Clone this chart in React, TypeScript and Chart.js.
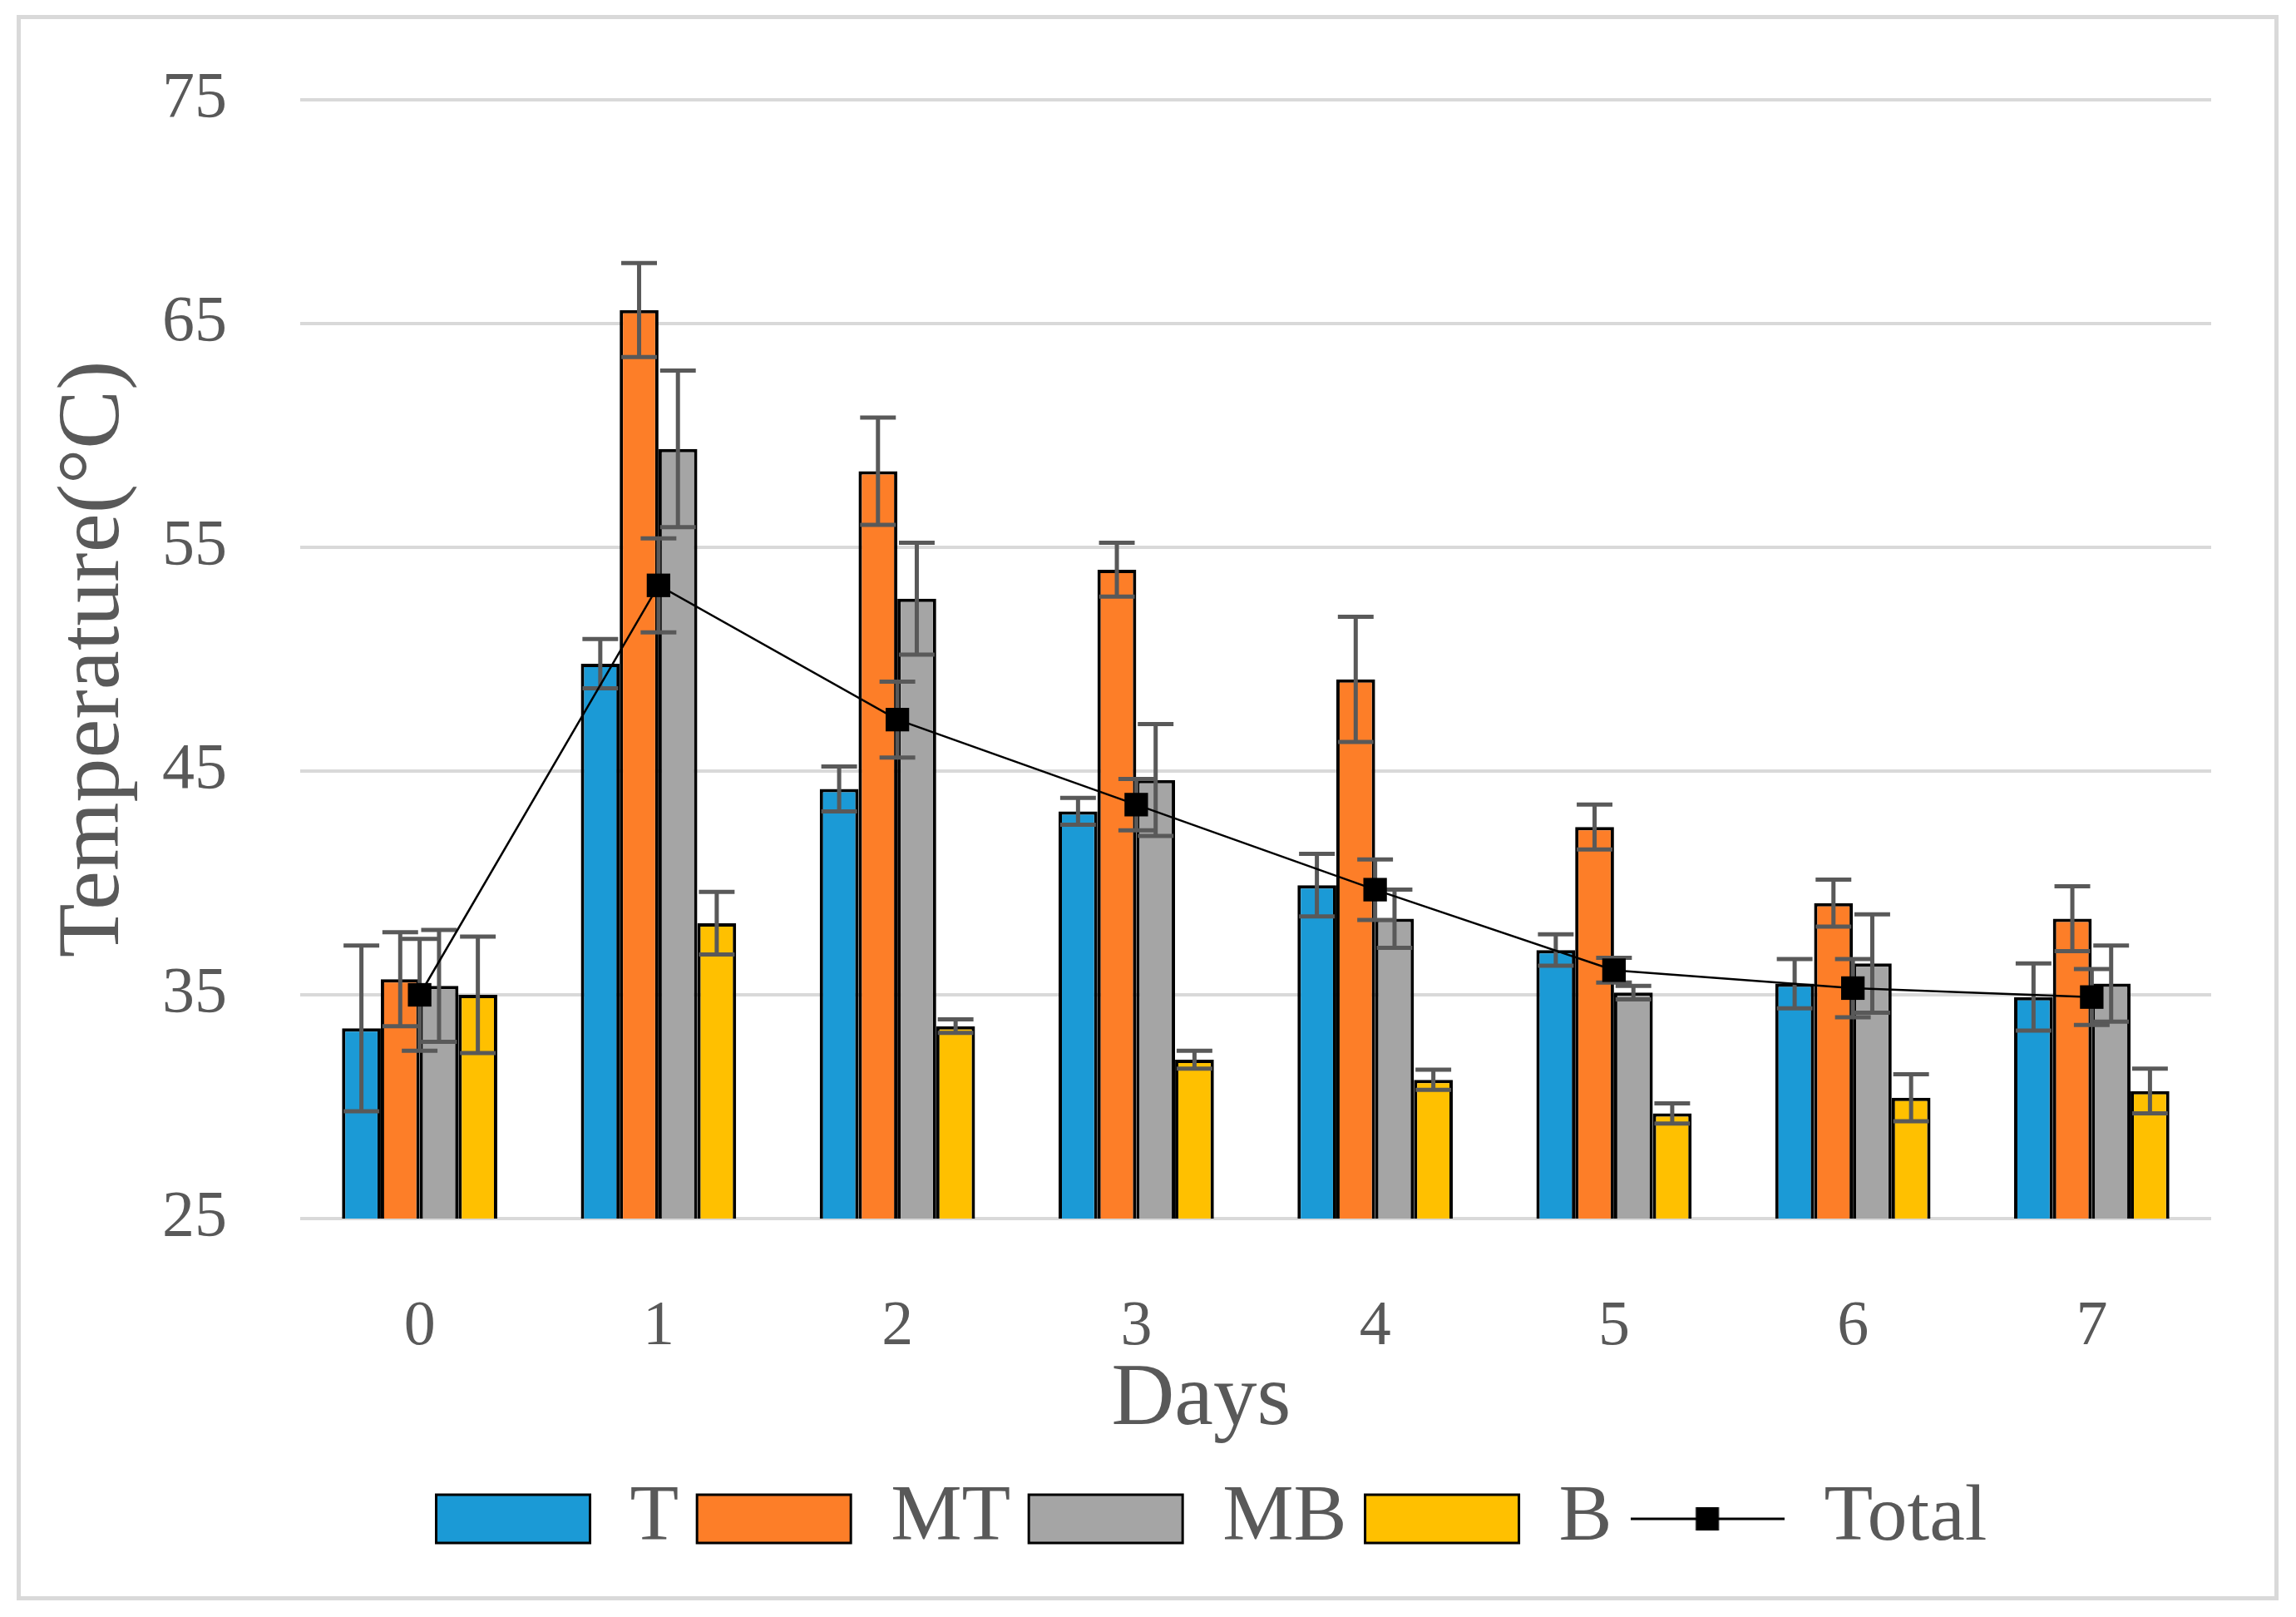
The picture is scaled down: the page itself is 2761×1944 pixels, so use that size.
import React, { useEffect, useRef } from "react";
import { Chart, registerables } from "chart.js";

Chart.register(...registerables);

const days = ["0", "1", "2", "3", "4", "5", "6", "7"];
const seriesNames = ["T", "MT", "MB", "B"];
const seriesColors = ["#1B9AD6", "#FD7E28", "#A5A5A5", "#FFC000"];

const tValues = [33.5, 49.8, 44.2, 43.2, 39.9, 37.0, 35.5, 34.9];
const mtValues = [35.7, 65.6, 58.4, 54.0, 49.1, 42.5, 39.1, 38.4];
const mbValues = [35.4, 59.4, 52.7, 44.6, 38.4, 35.1, 36.4, 35.5];
const bValues = [35.0, 38.2, 33.6, 32.1, 31.2, 29.7, 30.4, 30.7];
const totalValues = [35.0, 53.3, 47.3, 43.5, 39.7, 36.1, 35.3, 34.9];

const tErrors = [3.7, 1.1, 1.0, 0.6, 1.4, 0.7, 1.1, 1.5];
const mtErrors = [2.1, 2.1, 2.4, 1.2, 2.8, 1.0, 1.05, 1.45];
const mbErrors = [2.5, 3.5, 2.5, 2.5, 1.3, 0.3, 2.2, 1.7];
const bErrors = [2.6, 1.4, 0.3, 0.4, 0.45, 0.45, 1.05, 1.0];
const totalErrors = [2.5, 2.1, 1.7, 1.15, 1.35, 0.55, 1.3, 1.25];

const yTicks = [25, 35, 45, 55, 65, 75];

const barValues = [tValues, mtValues, mbValues, bValues];
const allErrors = [tErrors, mtErrors, mbErrors, bErrors, totalErrors];

const ERR_COLOR = "#595959";
const TEXT_COLOR = "#595959";
const FONT = "'Liberation Serif', 'Times New Roman', serif";

function makeTotalIcon(): HTMLCanvasElement {
  const c = document.createElement("canvas");
  c.width = 185;
  c.height = 32;
  const g = c.getContext("2d")!;
  g.strokeStyle = "#000";
  g.lineWidth = 3;
  g.beginPath();
  g.moveTo(0, 16);
  g.lineTo(185, 16);
  g.stroke();
  g.fillStyle = "#000";
  g.fillRect(92.5 - 14, 2, 28, 28);
  return c;
}

const errorBarPlugin = {
  id: "errorBars",
  drawErrors(chart: any, index: number) {
    const errs = allErrors[index];
    if (!errs) return;
    const meta = chart.getDatasetMeta(index);
    if (meta.hidden) return;
    const yScale = chart.scales.y;
    const data = chart.data.datasets[index].data as number[];
    const barMeta = chart.getDatasetMeta(0);
    const bw = barMeta.data[0] ? (barMeta.data[0] as any).width : 46;
    const half = bw * 0.46;
    const ctx = chart.ctx;
    ctx.save();
    ctx.strokeStyle = ERR_COLOR;
    ctx.lineWidth = 5;
    meta.data.forEach((el: any, j: number) => {
      const v = data[j];
      const e = errs[j];
      const x = el.x;
      const yt = yScale.getPixelForValue(v + e);
      const yb = yScale.getPixelForValue(v - e);
      ctx.beginPath();
      ctx.moveTo(x, yt);
      ctx.lineTo(x, yb);
      ctx.moveTo(x - half, yt);
      ctx.lineTo(x + half, yt);
      ctx.moveTo(x - half, yb);
      ctx.lineTo(x + half, yb);
      ctx.stroke();
    });
    ctx.restore();
  },
  afterDatasetDraw(chart: any, args: any) {
    if (args.index < 4) (errorBarPlugin as any).drawErrors(chart, args.index);
  },
  beforeDatasetDraw(chart: any, args: any) {
    if (args.index === 4) (errorBarPlugin as any).drawErrors(chart, args.index);
  },
};

export default function App() {
  const ref = useRef<HTMLCanvasElement | null>(null);

  useEffect(() => {
    if (!ref.current) return;
    const totalIcon = makeTotalIcon();
    const barDatasets = barValues.map((vals, i) => ({
      type: "bar" as const,
      label: seriesNames[i],
      data: vals,
      backgroundColor: seriesColors[i],
      borderColor: "#000000",
      borderWidth: 4,
      barPercentage: 1.0,
      categoryPercentage: 0.65,
      order: 1,
    }));
    const chart = new Chart(ref.current, {
      type: "bar",
      data: {
        labels: days,
        datasets: [
          ...barDatasets,
          {
            type: "line" as const,
            label: "Total",
            data: totalValues,
            borderColor: "#000000",
            borderWidth: 2.5,
            backgroundColor: "#000000",
            pointStyle: "rect",
            pointRadius: 20,
            pointBackgroundColor: "#000000",
            pointBorderWidth: 0,
            order: 0,
          } as any,
        ],
      },
      plugins: [errorBarPlugin as any],
      options: {
        animation: false,
        responsive: true,
        maintainAspectRatio: false,
        devicePixelRatio: 1,
        layout: { padding: { left: 153, right: 0, top: 112, bottom: 52 } },
        plugins: {
          tooltip: { enabled: false },
          legend: {
            position: "bottom",
            labels: {
              usePointStyle: true,
              pointStyleWidth: 185,
              boxWidth: 185,
              boxHeight: 58,
              padding: 22,
              color: TEXT_COLOR,
              font: { family: FONT, size: 96 },
              sort: (a: any, b: any) => a.datasetIndex - b.datasetIndex,
              generateLabels: (ch: any) => {
                const items = (Chart.defaults.plugins.legend.labels as any).generateLabels(ch);
                return items.map((it: any) => ({
                  ...it,
                  pointStyle: it.datasetIndex === 4 ? totalIcon : "rect",
                  strokeStyle: "#000000",
                  lineWidth: 3,
                  fontColor: TEXT_COLOR,
                }));
              },
            },
          },
        },
        scales: {
          x: {
            grid: { display: false, drawTicks: false },
            border: { display: false },
            ticks: {
              color: TEXT_COLOR,
              font: { family: FONT, size: 76 },
              padding: 85,
            },
            title: {
              display: true,
              text: "Days\u2002\u2002 ",
              color: TEXT_COLOR,
              font: { family: FONT, size: 105 },
              padding: { top: 0, bottom: 9 },
            },
            afterFit: (s: any) => {
              s.height = 291;
            },
          },
          y: {
            min: 25,
            max: 75,
            afterBuildTicks: (s: any) => {
              s.ticks = yTicks.map((v) => ({ value: v }));
            },
            grid: { color: "#D9D9D9", lineWidth: 4, drawTicks: false },
            border: { display: false },
            ticks: {
              color: TEXT_COLOR,
              font: { family: FONT, size: 78 },
              padding: 88,
            },
            title: {
              display: true,
              text: "Temperature(°C)",
              color: TEXT_COLOR,
              font: { family: FONT, size: 106 },
              padding: { top: -110.6, bottom: 0 },
            },
            afterFit: (s: any) => {
              s.width = 200;
              s.paddingTop = 0;
              s.paddingBottom = 0;
            },
          },
          y2: {
            position: "right",
            display: true,
            grid: { display: false, drawTicks: false },
            border: { display: false },
            ticks: { display: false },
            afterFit: (s: any) => {
              s.width = 94;
            },
          },
        },
      },
    });
    return () => chart.destroy();
  }, []);

  return (
    <div style={{ position: "relative", width: 2745, height: 1928, background: "#fff" }}>
      <div
        style={{
          position: "absolute",
          left: 12,
          top: 10,
          width: 2720,
          height: 1906,
          boxSizing: "border-box",
          border: "5px solid #D9D9D9",
        }}
      />
      <canvas ref={ref} style={{ position: "absolute", left: 0, top: 0, width: 2745, height: 1928 }} />
    </div>
  );
}
